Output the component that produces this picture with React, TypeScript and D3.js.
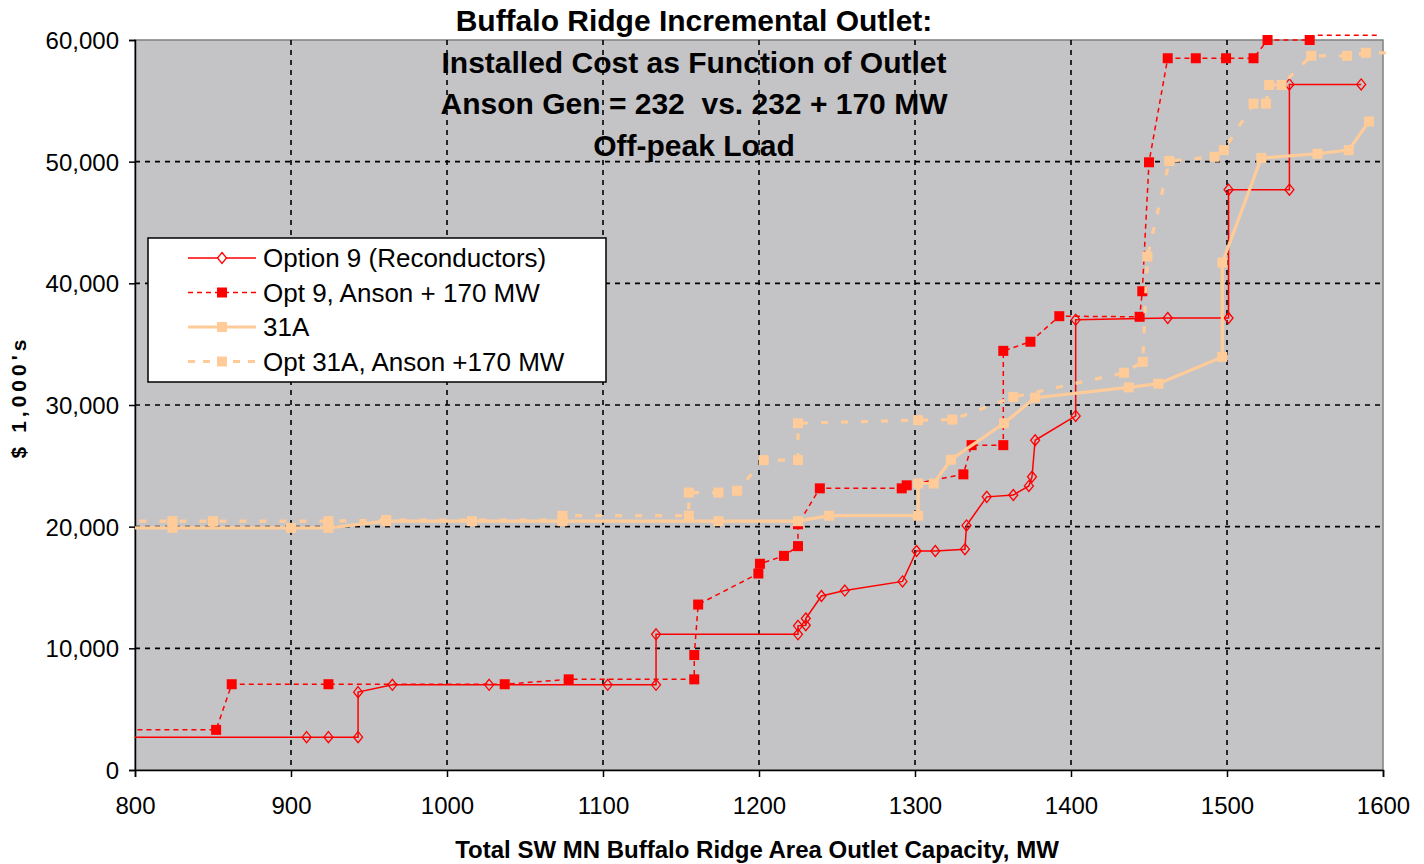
import React, { useEffect, useRef } from "react";
import * as d3 from "d3";

// Option 9 (Reconductors)
const opt9X = [790, 910, 924, 943, 943, 965, 1027, 1103, 1134, 1134, 1225, 1225, 1230, 1230, 1240, 1255, 1292, 1301, 1313, 1332, 1333, 1346, 1363, 1373, 1375, 1377, 1403, 1403, 1462, 1501, 1501, 1540, 1540, 1586];
const opt9Y = [2700, 2700, 2700, 2700, 6400, 7000, 7000, 7000, 7000, 11150, 11150, 11850, 11900, 12450, 14300, 14750, 15500, 18000, 18000, 18150, 20100, 22450, 22600, 23350, 24100, 27100, 29100, 37000, 37150, 37150, 47700, 47700, 56350, 56350];

// Opt 9, Anson + 170 MW
const opt9AnsonX = [790, 852, 862, 924, 1037, 1078, 1158.5, 1158.5, 1161, 1199.6, 1200.6, 1216, 1225, 1225, 1239, 1291.5, 1294.7, 1331, 1336.3, 1356.6, 1356.6, 1374, 1392.5, 1444, 1445.7, 1450, 1462, 1480, 1499.4, 1517, 1526, 1553, 1557, 1597];
const opt9AnsonY = [3300, 3300, 7050, 7050, 7050, 7450, 7450, 9450, 13600, 16150, 16950, 17600, 18400, 20200, 23150, 23150, 23400, 24300, 26700, 26700, 34450, 35200, 37300, 37250, 39350, 49950, 58500, 58500, 58500, 58500, 60000, 60000, 60400, 60400];

// 31A
const opt31X = [790, 824, 900, 924, 961, 1016, 1074, 1174, 1225, 1245, 1302, 1302, 1312, 1323, 1357, 1377, 1437, 1456, 1497, 1497, 1522, 1558, 1578, 1591];
const opt31Y = [19900, 19900, 19900, 19900, 20450, 20450, 20450, 20450, 20450, 20900, 20900, 23550, 23550, 25500, 28500, 30600, 31450, 31750, 33950, 41700, 50300, 50650, 50950, 53300];

// Opt 31A, Anson +170 MW
const opt31AnsonX = [790, 824, 850, 924, 961, 1074, 1074, 1155, 1155, 1174, 1186, 1203, 1225, 1225, 1302, 1324, 1363, 1434, 1446, 1449, 1463, 1492, 1498, 1517, 1525, 1527, 1535, 1554, 1577, 1589, 1605];
const opt31AnsonY = [20450, 20450, 20450, 20450, 20550, 20550, 20900, 20900, 22800, 22800, 22950, 25470, 25470, 28500, 28750, 28800, 30650, 32650, 33550, 42200, 50050, 50400, 50950, 54770, 54770, 56300, 56300, 58700, 58700, 58950, 58950];

const seriesNames = ["Option 9 (Reconductors)", "Opt 9, Anson + 170 MW", "31A", "Opt 31A, Anson +170 MW"];
const xTicks = [800, 900, 1000, 1100, 1200, 1300, 1400, 1500, 1600];
const yTicks = [0, 10000, 20000, 30000, 40000, 50000, 60000];
const titleLines = [
  "Buffalo Ridge Incremental Outlet:",
  "Installed Cost as Function of Outlet",
  "Anson Gen = 232  vs. 232 + 170 MW",
  "Off-peak Load",
];

const RED = "#ff0000";
const PEACH = "#ffcc99";
const FONT = "'Liberation Sans', Arial, sans-serif";

const App = () => {
  const svgRef = useRef(null);

  useEffect(() => {
    const w = 1424;
    const h = 864;
    const left = 135, right = 1383, top = 40, bottom = 770;

    const svg = d3.select(svgRef.current).attr("width", w).attr("height", h);
    svg.selectAll("*").remove();

    const x = d3.scaleLinear().domain([800, 1600]).range([left, right]);
    const y = d3.scaleLinear().domain([0, 60000]).range([bottom, top]);

    svg.append("rect").attr("width", w).attr("height", h).attr("fill", "#fff");

    // plot area
    svg.append("rect")
      .attr("x", left).attr("y", top)
      .attr("width", right - left).attr("height", bottom - top)
      .attr("fill", "#c4c3c6")
      .attr("stroke", "#808080").attr("stroke-width", 1.5);

    // grid
    svg.append("g").selectAll("line").data(xTicks.slice(1, -1)).join("line")
      .attr("x1", (d) => x(d)).attr("x2", (d) => x(d))
      .attr("y1", top).attr("y2", bottom)
      .attr("stroke", "#000").attr("stroke-width", 1.6).attr("stroke-dasharray", "5,5");
    svg.append("g").selectAll("line").data(yTicks.slice(1, -1)).join("line")
      .attr("x1", left).attr("x2", right)
      .attr("y1", (d) => y(d)).attr("y2", (d) => y(d))
      .attr("stroke", "#000").attr("stroke-width", 1.6).attr("stroke-dasharray", "5,5");

    // axes
    const xAxis = d3.axisBottom(x).tickValues(xTicks).tickSize(7).tickFormat(d3.format("d"));
    const gx = svg.append("g").attr("transform", `translate(0,${bottom})`).call(xAxis);
    gx.select(".domain").attr("stroke", "#000").attr("stroke-width", 1.5);
    gx.selectAll(".tick line").attr("stroke", "#000").attr("stroke-width", 1.5);
    gx.selectAll(".tick text")
      .attr("font-family", FONT).attr("font-size", 24).attr("fill", "#000")
      .attr("dy", 0).attr("y", 44);

    const yAxis = d3.axisLeft(y).tickValues(yTicks).tickSize(6).tickFormat(d3.format(","));
    const gy = svg.append("g").attr("transform", `translate(${left},0)`).call(yAxis);
    gy.select(".domain").attr("stroke", "#000").attr("stroke-width", 1.5);
    gy.selectAll(".tick text")
      .attr("font-family", FONT).attr("font-size", 24).attr("fill", "#000")
      .attr("x", -16).attr("dy", "0.36em");
    gy.selectAll(".tick line").attr("stroke", "#000").attr("stroke-width", 1.5);

    // clip: lines are cut at the left edge but can run past top/right
    svg.append("clipPath").attr("id", "plotclip")
      .append("rect").attr("x", left).attr("y", 20).attr("width", w - left).attr("height", bottom - 20);

    const series = [
      { xs: opt9X, ys: opt9Y, color: RED, width: 1.5, dash: null, marker: "diamond" },
      { xs: opt9AnsonX, ys: opt9AnsonY, color: RED, width: 1.5, dash: "5,4", marker: "square" },
      { xs: opt31X, ys: opt31Y, color: PEACH, width: 3.2, dash: null, marker: "square" },
      { xs: opt31AnsonX, ys: opt31AnsonY, color: PEACH, width: 3.2, dash: "7,13", marker: "square" },
    ];

    const line = d3.line().x((d) => x(d[0])).y((d) => y(d[1]));
    const diamond = "M0,-5.5L4.5,0L0,5.5L-4.5,0Z";

    const plot = svg.append("g").attr("clip-path", "url(#plotclip)");
    series.forEach((s) => {
      const pts = s.xs.map((v, i) => [v, s.ys[i]]);
      plot.append("path")
        .attr("d", line(pts))
        .attr("fill", "none")
        .attr("stroke", s.color)
        .attr("stroke-width", s.width)
        .attr("stroke-dasharray", s.dash);
      const shown = pts.filter((p) => p[0] >= 800 && p[0] <= 1600 && p[1] <= 60000);
      if (s.marker === "diamond") {
        plot.append("g").selectAll("path").data(shown).join("path")
          .attr("d", diamond)
          .attr("transform", (d) => `translate(${x(d[0])},${y(d[1])})`)
          .attr("fill", "none").attr("stroke", s.color).attr("stroke-width", 1.3);
      } else {
        plot.append("g").selectAll("rect").data(shown).join("rect")
          .attr("x", (d) => x(d[0]) - 5).attr("y", (d) => y(d[1]) - 5)
          .attr("width", 10).attr("height", 10)
          .attr("fill", s.color);
      }
    });

    // title
    svg.append("g").selectAll("text").data(titleLines).join("text")
      .attr("x", 694).attr("y", (d, i) => 31 + i * 41.5)
      .attr("text-anchor", "middle")
      .attr("font-family", FONT).attr("font-size", 30).attr("font-weight", "bold")
      .style("white-space", "pre")
      .text((d) => d);

    // axis titles
    svg.append("text")
      .attr("x", 757).attr("y", 858).attr("text-anchor", "middle")
      .attr("font-family", FONT).attr("font-size", 24).attr("font-weight", "bold")
      .text("Total SW MN Buffalo Ridge Area Outlet Capacity, MW");
    svg.append("text")
      .attr("transform", "translate(26,397) rotate(-90)")
      .attr("text-anchor", "middle")
      .attr("font-family", FONT).attr("font-size", 21).attr("font-weight", "bold")
      .attr("letter-spacing", 4)
      .text("$ 1,000's");

    // legend
    const lg = svg.append("g").attr("transform", "translate(148,238)");
    lg.append("rect").attr("width", 458).attr("height", 144)
      .attr("fill", "#fff").attr("stroke", "#000").attr("stroke-width", 1.5);
    series.forEach((s, i) => {
      const cy = 20 + i * 34.5;
      const row = lg.append("g").attr("transform", `translate(0,${cy})`);
      row.append("line").attr("x1", 40).attr("x2", 108)
        .attr("stroke", s.color).attr("stroke-width", s.width)
        .attr("stroke-dasharray", s.dash ? (i === 3 ? "7,8" : "5,4") : null);
      if (s.marker === "diamond") {
        row.append("path").attr("d", diamond).attr("transform", "translate(74,0)")
          .attr("fill", "#fff").attr("stroke", s.color).attr("stroke-width", 1.3);
      } else {
        row.append("rect").attr("x", 69).attr("y", -5).attr("width", 10).attr("height", 10).attr("fill", s.color);
      }
      row.append("text").attr("x", 115).attr("y", 9)
        .attr("font-family", FONT).attr("font-size", 26)
        .text(seriesNames[i]);
    });
  }, []);

  return (
    <div>
      <svg ref={svgRef} style={{ position: "absolute", left: 0, top: 0 }}></svg>
    </div>
  );
};

export default App;
